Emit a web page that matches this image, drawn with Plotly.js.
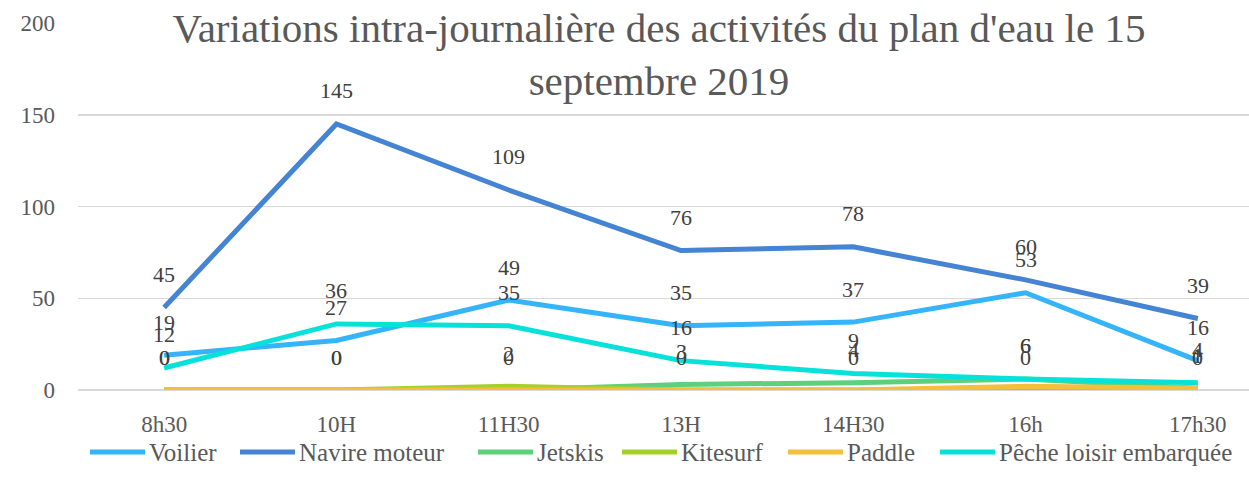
<!DOCTYPE html>
<html>
<head>
<meta charset="utf-8">
<script src="https://cdn.plot.ly/plotly-3.0.1.min.js"></script>
<style>
html, body { margin:0; padding:0; overflow:hidden; background:#fff; }
#chart { width:1300px; height:477px; }
</style>
</head>
<body>
<div id="chart"></div>
<script>
const categories = ["8h30", "10H", "11H30", "13H", "14H30", "16h", "17h30"];
const voilier = [19, 27, 49, 35, 37, 53, 16];
const navireMoteur = [45, 145, 109, 76, 78, 60, 39];
const jetskis = [0, 0, 0, 3, 4, 6, 1];
const kitesurf = [0, 0, 2, 0, 0, 0, 0];
const paddle = [0, 0, 0, 0, 0, 2, 1];
const pecheLoisir = [12, 36, 35, 16, 9, 6, 4];
const yTicks = [0, 50, 100, 150, 200];

const FONT = "Liberation Serif";
const series = [
  {name: "Voilier", y: voilier, color: "#35B4FA", label: true},
  {name: "Navire moteur", y: navireMoteur, color: "#4583D3", label: true},
  {name: "Jetskis", y: jetskis, color: "#5DD07C", label: true},
  {name: "Kitesurf", y: kitesurf, color: "#A5D02A", label: true},
  {name: "Paddle", y: paddle, color: "#F4BE3E", label: false},
  {name: "Pêche loisir embarquée", y: pecheLoisir, color: "#06E2D9", label: true}
];

// plot area geometry (px) for converting legend layout positions
const W = 1300, H = 477, ML = 78, MR = 16, MT = 23, MB = 87;
const PW = W - ML - MR, PH = H - MT - MB;
const px2x = p => (p - ML) / PW;
const px2y = p => (H - MB - p) / PH;

const idx = categories.map((c, i) => i);
const traces = series.map(s => ({
  type: "scatter", mode: "lines", name: s.name,
  x: idx, y: s.y,
  line: {color: s.color, width: 5},
  hoverinfo: "skip", showlegend: false
}));

const annotations = [];
series.forEach(s => {
  if (!s.label) return;
  s.y.forEach((v, i) => {
    annotations.push({
      x: i, y: v, xref: "x", yref: "y", text: String(v),
      showarrow: false, yshift: 33, xanchor: "center", yanchor: "middle",
      font: {family: FONT, size: 22, color: "#404040"}
    });
  });
});

// legend (custom, Excel-like: long line then text)
const legendStarts = [90, 240, 478, 622, 788, 940];
const legendY = 452;
const shapes = [];
series.forEach((s, i) => {
  const x0 = legendStarts[i];
  shapes.push({
    type: "line", xref: "paper", yref: "paper",
    x0: px2x(x0), x1: px2x(x0 + 55), y0: px2y(legendY), y1: px2y(legendY),
    line: {color: s.color, width: 5}
  });
  annotations.push({
    xref: "paper", yref: "paper", x: px2x(x0 + 57), y: px2y(legendY),
    xanchor: "left", yanchor: "middle", showarrow: false, text: s.name,
    font: {family: FONT, size: 25, color: "#595959"}
  });
});

const layout = {
  width: W, height: H,
  margin: {l: ML, r: MR, t: MT, b: MB, autoexpand: false},
  paper_bgcolor: "#fff", plot_bgcolor: "#fff",
  font: {family: FONT, size: 22, color: "#595959"},
  showlegend: false,
  title: {
    text: "Variations intra-journalière des activités du plan d'eau le 15<br>septembre 2019",
    font: {family: FONT, size: 41, color: "#595959"},
    x: 659 / W, xref: "container", xanchor: "center",
    y: 1 - 41.5 / H, yref: "container", yanchor: "middle"
  },
  xaxis: {
    range: [-0.5, 6.5], automargin: false,
    tickvals: idx, ticktext: categories,
    showgrid: false, zeroline: false, showline: false, ticks: "",
    ticklabelstandoff: 18,
    tickfont: {family: FONT, size: 23, color: "#595959"},
    fixedrange: true
  },
  yaxis: {
    range: [0, 200], tickvals: yTicks, automargin: false,
    showgrid: true, gridcolor: "#D9D9D9", gridwidth: 1.5,
    zeroline: true, zerolinecolor: "#D9D9D9", zerolinewidth: 1.5,
    showline: false, ticks: "",
    ticklabelstandoff: 22,
    tickfont: {family: FONT, size: 23, color: "#595959"},
    fixedrange: true
  },
  shapes: shapes,
  annotations: annotations
};

Plotly.newPlot("chart", traces, layout, {displayModeBar: false, staticPlot: true});
</script>
</body>
</html>
